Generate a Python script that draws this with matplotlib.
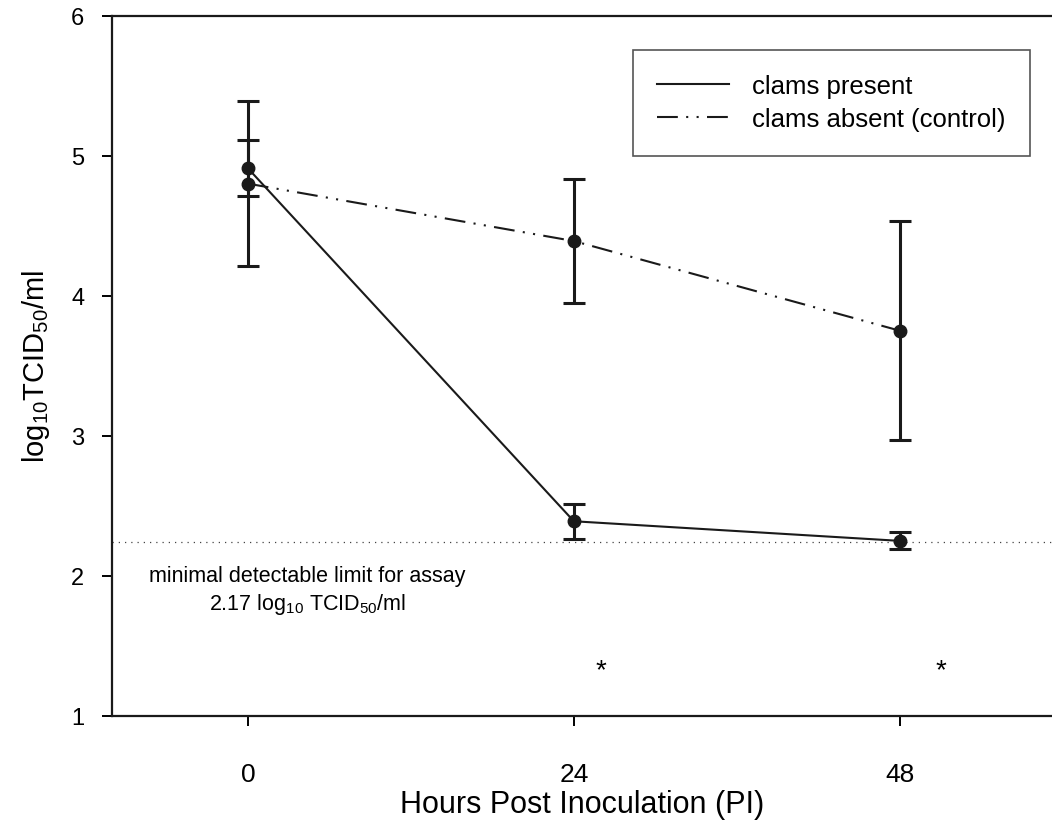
import matplotlib
matplotlib.use('Agg')
import matplotlib.pyplot as plt
from matplotlib.lines import Line2D

plt.rcParams['font.family'] = ['Liberation Sans', 'DejaVu Sans']
plt.rcParams['mathtext.default'] = 'regular'

hours = [0, 24, 48]
present = [4.91, 2.39, 2.25]
present_err = [0.20, 0.125, 0.06]
control = [4.80, 4.39, 3.75]
control_err = [0.59, 0.44, 0.78]
detect_limit = 2.24
star_x = [26, 51]
star_y = [1.33, 1.33]

ink = '#1a1a1a'
ctrl_dash = (10, 4, 1, 4, 1, 4)

fig = plt.figure(figsize=(10.52, 8.29), dpi=100)
ax = fig.add_axes([112 / 1052, 1 - 717 / 829, 1 - 112 / 1052, (717 - 16.5) / 829])

ax.errorbar(hours, present, yerr=present_err, color=ink, lw=1.5, elinewidth=2.2,
            capsize=8, capthick=2.2, marker='o', ms=9)
ax.errorbar(hours, control, yerr=control_err, color=ink, lw=1.5, elinewidth=2.2,
            capsize=8, capthick=2.2, marker='o', ms=9, dashes=ctrl_dash)

ax.axhline(detect_limit, color='#444444', lw=0.9, ls=(0, (1, 4)))

ax.text(4.4, 2.0, 'minimal detectable limit for assay', fontsize=15.5, ha='center', va='center')
ax.text(4.4, 1.8, '2.17 log$_{10}$ TCID$_{50}$/ml', fontsize=15.5, ha='center', va='center')
for x, y in zip(star_x, star_y):
    ax.text(x, y, '*', fontsize=20, ha='center', va='center')

ax.set_xlim(-10, 59.2)
ax.set_ylim(1, 6)
ax.set_xticks(hours)
ax.set_yticks([1, 2, 3, 4, 5, 6])
ax.spines['right'].set_visible(False)
for s in ['left', 'top', 'bottom']:
    ax.spines[s].set_linewidth(1.6)
    ax.spines[s].set_color(ink)
ax.tick_params(direction='out', length=7, width=1.4)
ax.tick_params(axis='y', labelsize=17, pad=13)
ax.tick_params(axis='x', labelsize=19, pad=26)

ax.set_xlabel('Hours Post Inoculation (PI)', fontsize=22, labelpad=2)
ax.set_ylabel('log$_{10}$TCID$_{50}$/ml', fontsize=21, labelpad=14)

handles = [Line2D([], [], color=ink, lw=1.5),
           Line2D([], [], color=ink, lw=1.5, dashes=ctrl_dash)]
leg = ax.legend(handles, ['clams present', 'clams absent (control)'], loc='upper right',
                bbox_to_anchor=((1030 - 112) / (1052 - 112), (717 - 51) / (717 - 16.5)),
                borderaxespad=0, fontsize=18.5, frameon=True, fancybox=False,
                handlelength=2.8, handletextpad=0.9, labelspacing=0.35, borderpad=0.95)
leg.get_frame().set_edgecolor('#555555')
leg.get_frame().set_linewidth(1.2)
leg.get_frame().set_alpha(1)

fig.savefig('out.png', dpi=100)
